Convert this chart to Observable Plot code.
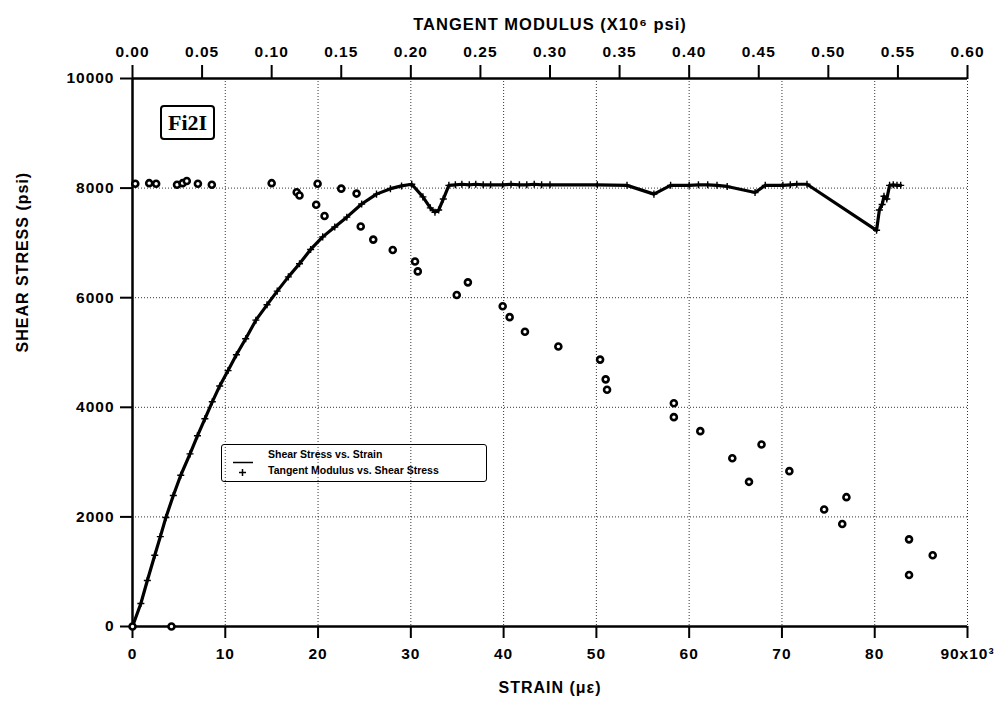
<!DOCTYPE html>
<html>
<head>
<meta charset="utf-8">
<script src="https://cdn.jsdelivr.net/npm/d3@7"></script>
<script src="https://cdn.jsdelivr.net/npm/@observablehq/plot@0.6"></script>
<style>
  html, body { margin: 0; padding: 0; background: #fff; }
  #wrap { position: relative; width: 1000px; height: 712px; overflow: hidden; }
  #wrap > svg { position: absolute; left: 0; top: 0; }
  .legend { position: absolute; left: 221px; top: 444px; width: 264px; height: 36px;
    border: 1.5px solid #000; border-radius: 3px; font-family: 'Liberation Sans', Arial, sans-serif;
    font-weight: bold; font-size: 10.5px; color: #000; }
  .legend svg { position: absolute; left: 0; top: 0; }
  .legend .t1 { position: absolute; left: 46px; top: 3px; white-space: nowrap; }
  .legend .t2 { position: absolute; left: 46px; top: 19px; white-space: nowrap; }
  .tag { position: absolute; left: 160px; top: 105px; width: 51px; height: 31px;
    border: 2px solid #000; border-radius: 4px; font-family: 'Liberation Serif', 'DejaVu Serif', serif;
    font-weight: bold; font-size: 22px; line-height: 31px; text-align: center; color: #000; }
</style>
</head>
<body>
<div id="wrap"></div>
<script>
// ---- tick values ----
const strainTicks = [0, 10, 20, 30, 40, 50, 60, 70, 80, 90];
const stressTicks = [0, 2000, 4000, 6000, 8000, 10000];
const modulusTicks = [0, 0.05, 0.10, 0.15, 0.20, 0.25, 0.30, 0.35, 0.40, 0.45, 0.50, 0.55, 0.60];

// ---- Shear stress vs strain (strain in 10^3 microstrain, stress in psi) ----
const curveStrain = [0, 0.9, 1.6, 2.4, 3.0, 3.6, 4.4, 5.2, 6.2, 7.0, 7.8, 8.6, 9.4, 10.3, 11.2, 12.2,
  13.3, 14.5, 15.6, 16.8, 18.0, 19.2, 20.5, 21.8, 23.1, 24.7, 26.3, 27.8, 29.0, 30.1, 31.3, 32.1,
  32.6, 33.0, 33.5, 34.1, 34.8, 35.5, 36.3, 37.0, 37.8, 38.6, 39.9, 40.8, 41.7, 42.5, 43.3, 44.1,
  45.0, 50.1, 53.3, 56.2, 58.0, 60.0, 61.0, 62.0, 63.0, 64.1, 67.1, 68.2, 70.1, 70.9, 71.6, 72.7,
  80.2, 80.5, 80.8, 81.0, 81.3, 81.6, 82.0, 82.4, 82.8];
const curveStress = [0, 420, 840, 1300, 1640, 1990, 2390, 2760, 3150, 3480, 3790, 4100, 4390, 4670, 4960, 5250,
  5590, 5870, 6120, 6380, 6620, 6880, 7110, 7290, 7470, 7710, 7890, 7990, 8040, 8070, 7840, 7640,
  7560, 7600, 7800, 8050, 8060, 8070, 8060, 8070, 8060, 8060, 8060, 8070, 8060, 8060, 8070, 8060,
  8060, 8060, 8050, 7890, 8050, 8050, 8060, 8060, 8050, 8030, 7920, 8050, 8050, 8060, 8070, 8070,
  7230, 7600, 7700, 7850, 7800, 8050, 8060, 8050, 8050];

// ---- Tangent modulus (10^6 psi) vs shear stress (psi) ----
const modValue = [0.000, 0.002, 0.012, 0.017, 0.028, 0.032, 0.036, 0.039, 0.047, 0.057, 0.100, 0.118, 0.120,
  0.133, 0.132, 0.138, 0.150, 0.161, 0.164, 0.173, 0.187, 0.203, 0.205, 0.233, 0.241, 0.266, 0.271,
  0.282, 0.306, 0.336, 0.340, 0.341, 0.389, 0.389, 0.408, 0.431, 0.452, 0.443, 0.472, 0.497, 0.513,
  0.510, 0.558, 0.575, 0.558];
const modStress = [0, 8080, 8090, 8080, 0, 8060, 8090, 8130, 8080, 8060, 8090, 7925, 7865,
  8080, 7695, 7490, 7990, 7900, 7300, 7060, 6870, 6660, 6480, 6050, 6280, 5845, 5645,
  5380, 5110, 4870, 4510, 4320, 4075, 3820, 3565, 3070, 3320, 2640, 2835, 2135, 2360,
  1870, 1590, 1300, 940];

const curve = curveStrain.map((x, i) => ({strain: x, stress: curveStress[i]}));
const mods = modValue.map((m, i) => ({modulus: m, stress: modStress[i]}));

const W = 1000, H = 712;
const margins = {marginLeft: 132, marginRight: 33, marginTop: 78, marginBottom: 86};
const font = "'Liberation Sans', Arial, Helvetica, sans-serif";
const gridStyle = {stroke: "#000", strokeOpacity: 0.8, strokeWidth: 1, strokeDasharray: "1,2"};
const baseStyle = {fontFamily: font, fontSize: "15.5px", fontWeight: "bold", letterSpacing: "1px",
  background: "transparent", color: "#000", overflow: "visible"};

const base = Plot.plot({
  width: W, height: H, ...margins,
  style: baseStyle,
  x: {domain: [0, 90]},
  y: {domain: [0, 10000]},
  marks: [
    Plot.gridX({ticks: strainTicks.slice(1), ...gridStyle}),
    Plot.gridY({ticks: stressTicks.slice(1, -1), ...gridStyle}),
    Plot.axisX({ticks: strainTicks, anchor: "bottom", tickSize: 12, tickPadding: 9, strokeWidth: 2,
      tickFormat: d => d === 90 ? "90x10\u00B3" : String(d), label: null}),
    Plot.axisY({ticks: stressTicks, anchor: "left", tickSize: 12, tickPadding: 6, strokeWidth: 2,
      tickFormat: d => String(d), label: null}),
    Plot.ruleX([0], {stroke: "#000", strokeWidth: 2.5}),
    Plot.ruleY([0], {stroke: "#000", strokeWidth: 2.5}),
    Plot.ruleY([10000], {stroke: "#000", strokeWidth: 2.5}),
    Plot.line(curve, {x: "strain", y: "stress", stroke: "#000", strokeWidth: 3.2}),
    Plot.dot(curve, {x: "strain", y: "stress", symbol: "plus", r: 2.4, stroke: "#000", strokeWidth: 1.4}),
    Plot.text(["STRAIN (\u03BC\u03B5)"], {text: d => d, frameAnchor: "bottom", dy: 66, fontSize: 16, letterSpacing: "0px"}),
    Plot.text(["SHEAR STRESS (psi)"], {text: d => d, frameAnchor: "left", dx: -110, rotate: -90, fontSize: 16, letterSpacing: "0px"})
  ]
});

const over = Plot.plot({
  width: W, height: H, ...margins,
  style: baseStyle,
  x: {domain: [0, 0.6]},
  y: {domain: [0, 10000], axis: null},
  marks: [
    Plot.axisX({ticks: modulusTicks, anchor: "top", tickSize: 14, tickPadding: 8, strokeWidth: 2,
      tickFormat: d => d.toFixed(2), label: null}),
    Plot.dot(mods, {x: "modulus", y: "stress", r: 3, stroke: "#000", strokeWidth: 2.6, fill: "#fff"}),
    Plot.text(["TANGENT MODULUS (X10\u2076 psi)"], {text: d => d, frameAnchor: "top", dy: -60, fontSize: 16.5, letterSpacing: "0px"})
  ]
});

const wrap = document.getElementById("wrap");
wrap.appendChild(base);
wrap.appendChild(over);

// Legend
const leg = document.createElement("div");
leg.className = "legend";
leg.innerHTML = `<svg width="44" height="36">
  <line x1="11" x2="31" y1="17.5" y2="17.5" stroke="#000" stroke-width="1.5"/>
  <line x1="20.5" x2="20.5" y1="24" y2="31" stroke="#000" stroke-width="1.5"/>
  <line x1="17" x2="24" y1="27.5" y2="27.5" stroke="#000" stroke-width="1.5"/>
</svg>
<div class="t1">Shear Stress vs. Strain</div>
<div class="t2">Tangent Modulus vs. Shear Stress</div>`;
wrap.appendChild(leg);

const tag = document.createElement("div");
tag.className = "tag";
tag.textContent = "Fi2I";
wrap.appendChild(tag);
</script>
</body>
</html>
